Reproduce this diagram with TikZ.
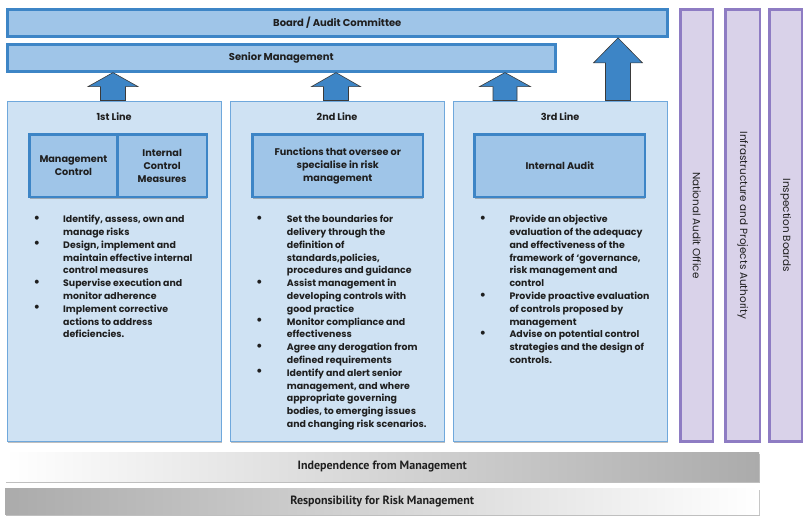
\documentclass[tikz,border=0pt]{standalone}
\usepackage{fontspec}
\setmainfont{Poppins}
\newfontfamily\bandfont{PT Sans}
\usetikzlibrary{shadows,calc}

\definecolor{barfill}{HTML}{9FC5E8}
\definecolor{barline}{HTML}{3D85C6}
\definecolor{linefill}{HTML}{CFE2F3}
\definecolor{lineline}{HTML}{6FA8DC}
\definecolor{arrfill}{HTML}{3D85C6}
\definecolor{arrline}{HTML}{3A3A3A}
\definecolor{extfill}{HTML}{D9D2E9}
\definecolor{extline}{HTML}{8E7CC3}
\definecolor{txt}{HTML}{1F1F1F}
\definecolor{bandgrey}{HTML}{ABABAB}

\tikzset{
  dropsh/.style={drop shadow={shadow xshift=0.4pt, shadow yshift=-1.6pt, opacity=0.25, fill=black}},
  bar/.style={draw=barline, line width=2.6pt, fill=barfill, anchor=north west, inner sep=0pt,
    text=txt, font=\bfseries\fontsize{10}{12.8}\selectfont, dropsh},
  linebox/.style={draw=lineline, line width=1.2pt, fill=linefill, anchor=north west, inner sep=0pt,
    minimum width=214, minimum height=340, dropsh},
  head/.style={text=txt, font=\bfseries\fontsize{9.7}{12.8}\selectfont},
  inner/.style={draw=barline, line width=2.6pt, fill=barfill, anchor=north west, inner sep=0pt,
    minimum height=62.4, align=center, text=txt, font=\bfseries\fontsize{9.7}{12.8}\selectfont, dropsh},
  bullets/.style={anchor=north west, inner sep=0pt, text=txt, font=\bfseries\fontsize{9.4}{12.8}\selectfont},
  ext/.style={draw=extline, line width=2.4pt, fill=extfill, anchor=north west, inner sep=0pt,
    minimum height=432, dropsh},
  extlabel/.style={rotate=-90, text=txt, font=\fontsize{10.4}{12}\selectfont},
  band/.style={anchor=north west, inner sep=0pt, minimum width=754, text=txt,
    font=\bandfont\bfseries\fontsize{12}{14}\selectfont, dropsh},
  arrowst/.style={draw=arrline, line width=0.6pt, fill=arrfill}
}

% block arrow: x, lower node, upper node, head length, head half width, shaft half width
\newcommand\blockup[6]{%
  \path (#1,0 |- #2.north) coordinate (ab) (#1,0 |- #3.south) coordinate (at);
  \draw [arrowst] (at) -- ++(#5,#4) -- ++(#6-#5,0) -- ($(ab)+(#6,0)$) -- ($(ab)+(-#6,0)$)
    -- ($(at)+(-#6,#4)$) -- ($(at)+(-#5,#4)$) -- cycle;
}
\newcommand\blist[2]{\begin{tabular}{@{}p{#1}@{}l@{}}#2\end{tabular}}
\newcommand\bul{\raisebox{0.3pt}{\fontsize{13}{12.8}\selectfont\textbullet}}

\begin{document}
\begin{tikzpicture}[x=1pt,y=-1pt]
    \useasboundingbox (0,0) rectangle (804,522);
    % governance bars
    \path (6,8.3) node [bar, minimum width=660, minimum height=27] (bac) {Board / Audit Committee};
    \path (6,43) node [bar, minimum width=548, minimum height=27] (sm) {Senior Management};
    % three lines
    \path (6.5,100.5) node [linebox] (l1) {};
    \path (229.5,100.5) node [linebox] (l2) {};
    \path (452.5,100.5) node [linebox] (l3) {};
    \path (l1.north) ++(0,16.5) node [head] (l1h) {1st Line};
    \path (l2.north) ++(0,16.5) node [head] (l2h) {2nd Line};
    \path (l3.north) ++(0,16.5) node [head] (l3h) {3rd Line};
    \path (28.3,133.3) node [inner, minimum width=87.7] (mc) {Management\\Control};
    \path (116,133.3) node [inner, minimum width=89.7] (icm) {Internal\\Control\\Measures};
    \path (251.3,133.3) node [inner, minimum width=170.4] (fn) {Functions that oversee or\\specialise in risk\\management};
    \path (473.3,133.3) node [inner, minimum width=170.4] (ia) {Internal Audit};
    % bullet lists
    \path (33.5,213.5) node [bullets] (l1b) {\blist{29.5pt}{%
      \bul & Identify, assess, own and\\
           & manage risks\\
      \bul & Design, implement and\\
           & maintain effective internal\\
           & control measures\\
      \bul & Supervise execution and\\
           & monitor adherence\\
      \bul & Implement corrective\\
           & actions to address\\
           & deficiencies.\\}};
    \path (256,213.5) node [bullets] (l2b) {\blist{30.7pt}{%
      \bul & Set the boundaries for\\
           & delivery through the\\
           & definition of\\
           & standards,policies,\\
           & procedures and guidance\\
      \bul & Assist management in\\
           & developing controls with\\
           & good practice\\
      \bul & Monitor compliance and\\
           & effectiveness\\
      \bul & Agree any derogation from\\
           & defined requirements\\
      \bul & Identify and alert senior\\
           & management, and where\\
           & appropriate governing\\
           & bodies, to emerging issues\\
           & and changing risk scenarios.\\}};
    \path (479.5,213.5) node [bullets] (l3b) {\blist{29.8pt}{%
      \bul & Provide an objective\\
           & evaluation of the adequacy\\
           & and effectiveness of the\\
           & framework of ‘governance,\\
           & risk management and\\
           & control\\
      \bul & Provide proactive evaluation\\
           & of controls proposed by\\
           & management\\
      \bul & Advise on potential control\\
           & strategies and the design of\\
           & controls.\\}};
    % outside bodies
    \path (679.2,8.2) node [ext, minimum width=32.6] (nao) {};
    \path (724.2,8.2) node [ext, minimum width=34.6] (ipa) {};
    \path (768.2,8.2) node [ext, minimum width=32.6] (ib) {};
    \path (nao.center) node [extlabel] (naot) {National Audit Office};
    \path (ipa.center) node [extlabel] (ipat) {Infrastructure and Projects Authority};
    \path (ib.center) node [extlabel] (ibt) {Inspection Boards};
    % bottom bands
    \path (5,452) node [band, minimum height=29, left color=white, right color=bandgrey] (ind) {Independence from Management};
    \path (5,488) node [band, minimum height=26, left color=bandgrey, right color=white] (resp) {Responsibility for Risk Management};
    % reporting arrows
    \blockup{113}{l1}{sm}{14}{25}{12.5}
    \blockup{336}{l2}{sm}{14}{24.5}{12.5}
    \blockup{505}{l3}{sm}{14}{25.5}{12}
    \blockup{618}{l3}{bac}{25}{24.5}{12.5}
\end{tikzpicture}
\end{document}
